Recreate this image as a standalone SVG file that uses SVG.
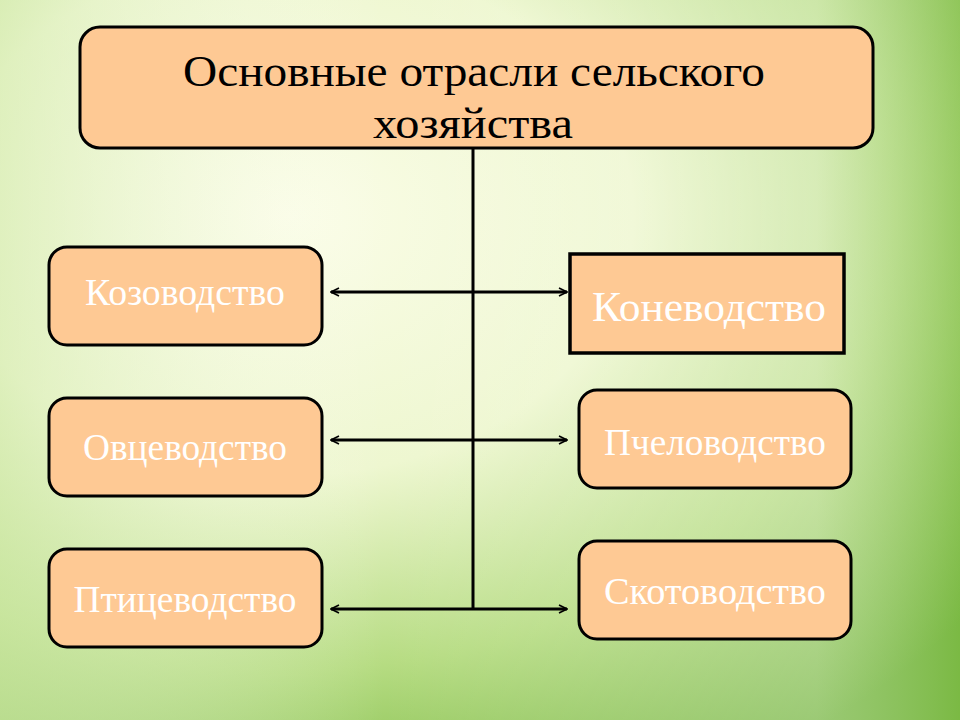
<svg xmlns="http://www.w3.org/2000/svg" width="960" height="720" viewBox="0 0 960 720">
<defs>
<radialGradient id="bg" cx="0.3" cy="0.3" r="0.9">
<stop offset="0" stop-color="#fbfde8"/>
<stop offset="0.4" stop-color="#eef7d0"/>
<stop offset="0.7" stop-color="#b6dc82"/>
<stop offset="1" stop-color="#6fb238"/>
</radialGradient>
<linearGradient id="top" x1="0" y1="0" x2="1" y2="0">
<stop offset="0" stop-color="#d4ebb0" stop-opacity="0.6"/>
<stop offset="0.4" stop-color="#ffffff" stop-opacity="0"/>
<stop offset="0.85" stop-color="#ffffff" stop-opacity="0.3"/>
<stop offset="1" stop-color="#8cc455" stop-opacity="0.4"/>
</linearGradient>
<marker id="ah" viewBox="0 0 10 10" refX="9" refY="5" markerWidth="10" markerHeight="10" markerUnits="userSpaceOnUse" orient="auto-start-reverse">
<path d="M1,1 L9,5 L1,9" fill="none" stroke="#000" stroke-width="1.6"/>
</marker>
<style>
.box{fill:#fec994;stroke:#000;stroke-width:3}
.lbl{font-family:"Liberation Serif",serif;font-size:38px;fill:#fff;text-anchor:middle}
.ttl{font-family:"Liberation Serif",serif;font-size:44px;fill:#000;text-anchor:middle}
.ln{stroke:#000;stroke-width:3;fill:none}
</style>
</defs>
<rect width="960" height="720" fill="url(#bg)"/>
<rect width="960" height="720" fill="url(#top)"/>
<g id="title"><rect class="box" x="80" y="27" width="793" height="121" rx="20"/>
<text class="ttl" x="474" y="86" textLength="582" lengthAdjust="spacingAndGlyphs">Основные отрасли сельского</text>
<text class="ttl" x="473" y="138" textLength="200" lengthAdjust="spacingAndGlyphs">хозяйства</text></g>
<g id="kozo"><rect class="box" x="49" y="247" width="273" height="98" rx="18"/><text class="lbl" x="185" y="305" textLength="200" lengthAdjust="spacingAndGlyphs">Козоводство</text></g>
<g id="ovce"><rect class="box" x="49" y="398" width="273" height="98" rx="18"/><text class="lbl" x="185" y="460" textLength="204" lengthAdjust="spacingAndGlyphs">Овцеводство</text></g>
<g id="ptic"><rect class="box" x="49" y="549" width="273" height="98" rx="18"/><text class="lbl" x="185" y="612" textLength="223" lengthAdjust="spacingAndGlyphs">Птицеводство</text></g>
<g id="kone"><rect class="box" x="570" y="254" width="274" height="99" style="stroke-width:3.5"/><text class="lbl" x="709" y="321" style="font-size:42px" textLength="234" lengthAdjust="spacingAndGlyphs">Коневодство</text></g>
<g id="pchel"><rect class="box" x="579" y="390" width="272" height="98" rx="18"/><text class="lbl" x="715" y="455" textLength="222" lengthAdjust="spacingAndGlyphs">Пчеловодство</text></g>
<g id="skot"><rect class="box" x="579" y="541" width="272" height="98" rx="18"/><text class="lbl" x="715" y="604" textLength="222" lengthAdjust="spacingAndGlyphs">Скотоводство</text></g>
<g id="connectors">
<line class="ln" x1="473" y1="148" x2="473" y2="609"/>
<line class="ln" x1="331" y1="292" x2="567" y2="292" marker-start="url(#ah)" marker-end="url(#ah)"/>
<line class="ln" x1="331" y1="440" x2="567" y2="440" marker-start="url(#ah)" marker-end="url(#ah)"/>
<line class="ln" x1="331" y1="609" x2="567" y2="609" marker-start="url(#ah)" marker-end="url(#ah)"/>
</g>
</svg>
